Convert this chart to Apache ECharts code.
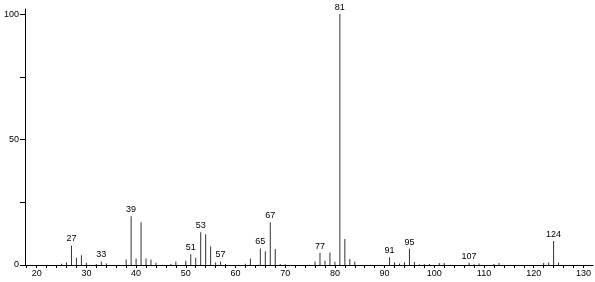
<!DOCTYPE html>
<html><head><meta charset="utf-8">
<script src="https://cdn.jsdelivr.net/npm/echarts@6/dist/echarts.min.js"></script>
<style>html,body{margin:0;padding:0;background:#fff}#c{width:595px;height:282px}</style>
</head><body><div id="c"></div>
<script>
var masses = [25,26,27,28,29,30,32,33,34,38,39,40,41,42,43,44,47,48,50,51,52,53,54,55,56,57,58,62,63,65,66,67,68,69,70,76,77,78,79,80,81,82,83,84,91,92,93,94,95,96,97,98,99,101,102,107,108,109,112,113,122,123,124,125];
var intensities = [0.5,1.1,7.8,2.9,3.9,0.9,0.4,1.4,0.6,2.2,19.4,2.6,17.0,2.6,2.2,0.9,0.4,1.4,1.7,4.3,2.9,13.0,12.3,7.5,1.0,1.4,0.4,0.5,2.6,6.6,5.5,17.0,6.4,0.4,0.3,1.4,4.9,1.7,5.0,1.3,100,10.4,2.4,1.4,3.1,1.1,0.6,1.1,6.5,1.2,0.3,0.3,0.4,0.8,0.8,0.9,0.3,0.6,0.4,0.8,0.8,1.0,9.6,1.0];
var labeledMasses = [27,33,39,51,53,57,65,67,77,81,91,95,107,124];
var xTickLabels = [20,30,40,50,60,70,80,90,100,110,120,130];
var xTicks = [];
for (var t = 18; t <= 130; t += 2) xTicks.push(t);
var yTickLabels = [0,50,100];
var yTicks = [0,25,50,75,100];

var data = masses.map(function(m, i){
  var item = {value: [m, intensities[i]]};
  if (labeledMasses.indexOf(m) >= 0) item.label = {show: true};
  return item;
});
var font = 'Liberation Sans';
var chart = echarts.init(document.getElementById('c'), null, {renderer: 'canvas'});
chart.setOption({
  animation: false,
  backgroundColor: '#fff',
  grid: {left: 25, right: 2, top: 9, bottom: 17},
  xAxis: {
    type: 'value', min: 17.65, max: 131.93,
    axisLine: {lineStyle: {color: '#000', width: 1}},
    axisTick: {show: true, length: 3, customValues: xTicks, lineStyle: {color: '#000'}},
    axisLabel: {customValues: xTickLabels, color: '#000', fontSize: 9, fontFamily: font, margin: 4},
    splitLine: {show: false}
  },
  yAxis: {
    type: 'value', min: 0, max: 102,
    axisLine: {show: true, lineStyle: {color: '#000', width: 1}},
    axisTick: {show: true, length: 5, customValues: yTicks, lineStyle: {color: '#000'}},
    axisLabel: {customValues: yTickLabels, color: '#000', fontSize: 9, fontFamily: font, margin: 6},
    splitLine: {show: false}
  },
  series: [{
    type: 'bar',
    barWidth: 1,
    itemStyle: {color: '#333'},
    label: {show: false, position: 'top', distance: 2, color: '#000', fontSize: 9, fontFamily: font,
      formatter: function(p){ return String(p.value[0]); }},
    data: data
  }]
});
</script></body></html>
